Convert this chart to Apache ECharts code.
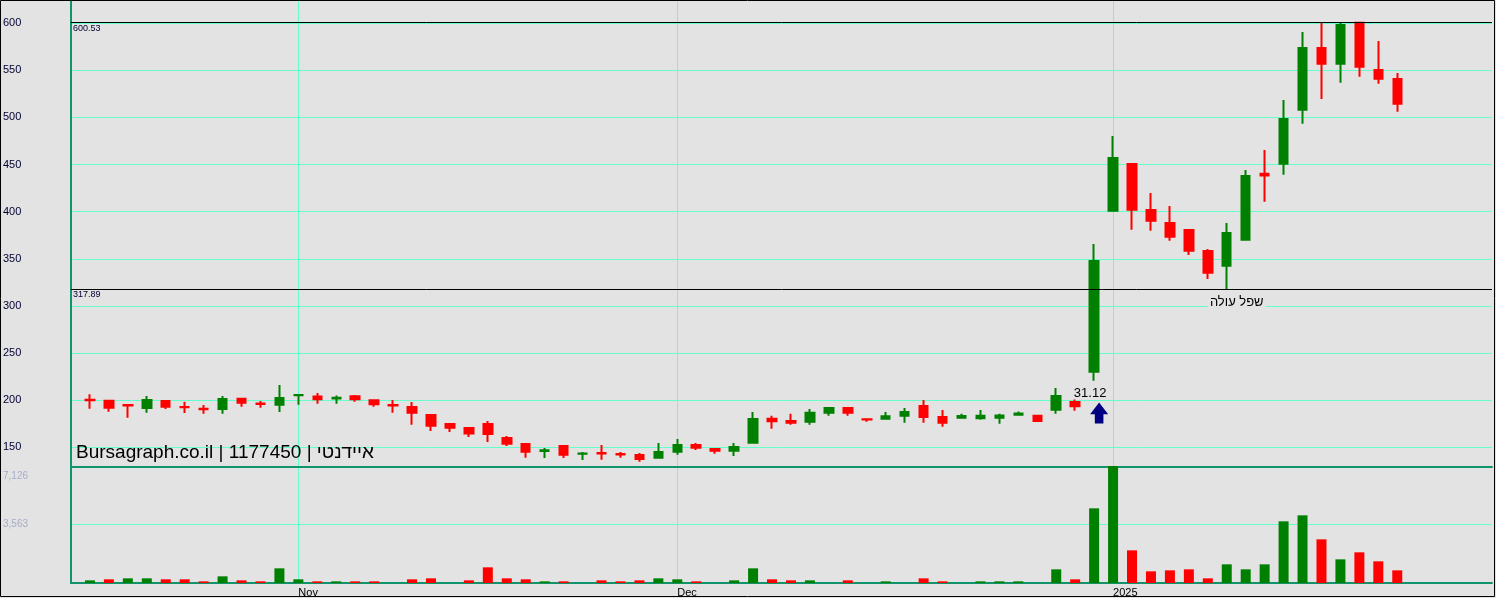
<!DOCTYPE html>
<html><head><meta charset="utf-8">
<script src="https://cdn.jsdelivr.net/npm/echarts@6/dist/echarts.min.js"></script>
<style>html,body{margin:0;padding:0;background:#e3e3e3}#c{width:1496px;height:598px}</style>
</head><body><div id="c"></div><script>
// ---- data ----
const dates = ['13.10','14.10','15.10','20.10','21.10','22.10','27.10','28.10','29.10','30.10','31.10',
  '03.11','04.11','05.11','06.11','07.11','10.11','11.11','12.11','13.11','14.11','17.11','18.11','19.11','20.11','21.11','24.11','25.11','26.11','27.11','28.11',
  '01.12','02.12','03.12','04.12','05.12','08.12','09.12','10.12','11.12','12.12','15.12','16.12','17.12','18.12','19.12','22.12','23.12','24.12','25.12','26.12','29.12','30.12','31.12',
  '01.01','02.01','05.01','06.01','07.01','08.01','09.01','12.01','13.01','14.01','15.01','16.01','19.01','20.01','21.01','22.01'];
const open  = [200.5,199.6,195.0,191.8,199.3,193.0,191.0,190.8,201.7,196.7,195.3,205.3,204.0,202.0,204.2,200.0,195.0,192.9,184.4,174.9,170.6,174.9,160.0,153.7,146.3,151.5,143.2,144.0,143.0,142.0,139.1,145.5,152.5,148.4,146.6,155.0,180.5,178.0,177.3,186.9,191.8,180.0,180.5,183.7,193.9,182.3,181.6,181.0,181.5,184.8,183.5,190.0,198.2,230.3,401.1,450.6,401.8,388.0,380.6,358.3,342.7,370.3,440.3,450.9,508.2,573.6,557.0,600.53,550.3,540.8];
const close = [200.0,192.2,194.5,200.3,193.2,192.5,190.5,201.4,197.5,196.2,202.4,205.6,201.0,202.8,201.1,195.8,194.5,186.9,173.1,170.9,164.8,164.2,154.0,145.5,146.9,142.3,143.7,143.6,142.5,137.7,145.2,152.6,149.8,146.6,150.5,180.2,177.7,176.3,186.9,191.8,186.9,179.6,183.0,187.6,182.3,176.2,183.3,183.7,184.0,186.0,178.0,204.6,193.6,347.7,457.0,402.1,390.5,373.5,358.7,335.3,377.4,437.9,438.5,498.3,573.6,557.0,598.0,553.8,541.1,514.6];
const low   = [191.1,187.9,181.5,186.9,190.8,186.5,185.8,185.8,193.2,192.2,187.6,195.3,196.4,196.4,198.5,193.2,186.9,174.1,167.4,166.4,161.1,155.8,151.5,139.1,138.8,138.8,136.7,137.0,139.1,134.9,139.0,142.3,147.3,143.4,140.9,155.0,169.9,174.1,174.1,183.7,183.7,177.3,180.3,176.2,176.2,172.0,181.5,179.4,175.2,184.7,178.0,185.8,189.0,220.8,400.5,380.9,379.9,369.3,354.1,328.6,317.89,370.0,410.6,439.3,493.3,519.5,536.8,543.2,535.8,506.1];
const high  = [206.4,200.0,195.0,204.6,199.5,198.5,195.0,204.6,202.5,199.3,216.2,206.7,207.7,205.2,205.7,200.3,200.3,198.2,184.5,175.0,171.7,178.0,162.1,154.7,149.4,151.6,145.2,152.6,145.2,144.1,154.7,159.0,154.7,148.5,154.7,187.6,183.7,185.8,190.8,192.9,192.0,180.0,187.6,191.8,200.3,189.7,185.8,189.7,185.8,188.0,183.5,213.0,205.6,365.8,480.3,451.0,419.9,406.0,381.0,360.4,388.0,444.3,465.5,518.5,590.6,600.53,600.53,600.53,581.0,547.2];
const volume = [162,224,284,284,224,224,101,406,162,101,893,224,101,101,101,101,0,224,284,0,162,954,284,224,101,101,0,162,101,162,284,224,101,0,162,893,224,162,162,0,162,0,101,0,284,101,0,101,101,101,0,832,224,4547,7126,1989,711,771,832,284,1137,832,1137,3756,4121,2659,1441,1868,1320,771];
const volumeUp = [1,0,1,1,0,0,0,1,0,0, 1,1,0,1,0,0,0,0,0,0, 0,0,0,0,1,0,0,0,0,0, 1,1,0,0,1,1,0,0,1,1, 0,0,1,1,0,0,1,1,1,1, 0,1,0,1,1,0,0,0,0,0, 1,1,1,1,1,0,1,0,0,0];
const priceTicks = [150,200,250,300,350,400,450,500,550,600];
const volumeTicks = [3563,7126];
const monthLabels = {'03.11':'Nov','01.12':'Dec','01.01':'2025'};
const levelLines = [600.53,317.89];
const lowNote = {date:'09.01', value:317.89, text:'שפל עולה'};
const arrowMark = {date:'31.12', value:186.5, text:'31.12'};
const watermark = 'Bursagraph.co.il | 1177450 | איידנטי';

// ---- chart ----
const UP='#008000', DOWN='#ff0000', TEAL='#11946c', MINT='#66ffcc', BG='#e3e3e3';
const cats = ['_p0'].concat(dates, ['_p1','_p2','_p3','_p4','_p5']);
const isMonth = (i, v) => Object.prototype.hasOwnProperty.call(monthLabels, v);
const candleRows = dates.map((d,i)=>[d, open[i], close[i], low[i], high[i]]);
const volRows = dates.map((d,i)=>({value:[d, volume[i]], itemStyle:{color: volumeUp[i] ? UP : DOWN}}));
const fmt = v => Number(v).toLocaleString('en-US');
const volMax = volumeTicks[volumeTicks.length-1];

const chart = echarts.init(document.getElementById('c'), null, {renderer:'canvas'});
chart.setOption({
  backgroundColor: BG,
  animation: false,
  title: {text: watermark, left: 76, top: 443, padding: 0,
    textStyle: {fontFamily:'Arial', fontSize:19, fontWeight:'normal', color:'#000'}},
  grid: [{left:71, top:1, width:1421, height:466}, {left:71, top:466, width:1421, height:117}],
  xAxis: [
    {type:'category', gridIndex:0, data:cats, boundaryGap:false,
     axisLine:{show:true, lineStyle:{color:TEAL, width:2}}, axisTick:{show:false}, axisLabel:{show:false},
     splitLine:{show:true, interval:isMonth, lineStyle:{color:MINT, width:1}}},
    {type:'category', gridIndex:1, data:cats, boundaryGap:false,
     axisLine:{show:true, lineStyle:{color:TEAL, width:2}}, axisTick:{show:false},
     axisLabel:{interval:isMonth, formatter:v=>monthLabels[v]||'', align:'left', margin:4, fontFamily:'Arial', fontSize:11, color:'#000'},
     splitLine:{show:true, interval:isMonth, lineStyle:{color:MINT, width:1}}}
  ],
  yAxis: [
    {type:'value', gridIndex:0, min:129.26, max:623.5,
     axisLine:{show:true, lineStyle:{color:TEAL, width:2}},
     axisTick:{show:false, customValues:priceTicks},
     axisLabel:{customValues:priceTicks, align:'left', margin:68, fontFamily:'Arial', fontSize:11, color:'#000033'},
     splitLine:{show:true, lineStyle:{color:MINT, width:1}}},
    {type:'value', gridIndex:1, min:0, max:volMax,
     axisLine:{show:true, lineStyle:{color:TEAL, width:2}},
     axisTick:{show:false, customValues:volumeTicks},
     axisLabel:{customValues:volumeTicks, align:'left', margin:68, fontFamily:'Arial', fontSize:10, color:'#a3adc8',
       formatter: v => v===volMax ? '{t|'+fmt(v)+'}' : fmt(v),
       rich:{t:{padding:[21,0,0,0], fontFamily:'Arial', fontSize:10, color:'#a3adc8'}}},
     splitLine:{show:true, lineStyle:{color:MINT, width:1}}}
  ],
  series: [
    {type:'candlestick', xAxisIndex:0, yAxisIndex:0, barWidth:9,
     dimensions:['date','open','close','lowest','highest'],
     encode:{x:'date', y:['open','close','lowest','highest']},
     data: candleRows,
     itemStyle:{color:UP, color0:DOWN, borderColor:UP, borderColor0:DOWN, borderWidth:2},
     markLine:{silent:true, symbol:['none','none'], animation:false,
       lineStyle:{color:'#000', width:1, type:'solid'},
       label:{position:'insideStartBottom', formatter:p=>Number(p.value).toFixed(2), fontFamily:'Arial', fontSize:9, color:'#000033', distance:[2,1]},
       emphasis:{disabled:true},
       data: levelLines.map(v=>({yAxis:v}))},
     markPoint:{silent:true, animation:false,
       data:[
         {coord:[arrowMark.date, arrowMark.value], symbol:'path://M9,0L18,11.6L13.3,11.6L13.3,20.6L4.7,20.6L4.7,11.6L0,11.6Z',
          symbolSize:[18,21], symbolOffset:[5,0], itemStyle:{color:'#000080'},
          label:{show:true, formatter:arrowMark.text, position:'top', distance:3, offset:[-9,0], fontFamily:'Arial', fontSize:13, color:'#000', backgroundColor:BG, padding:[0,1]}},
         {coord:[lowNote.date, lowNote.value], symbol:'rect', symbolSize:1, itemStyle:{color:'rgba(0,0,0,0)'},
          label:{show:true, formatter:lowNote.text, position:'inside', offset:[10,13.5], fontFamily:'Arial', fontSize:13, color:'#000', backgroundColor:BG, padding:[0,2]}}
       ]}
    },
    {type:'bar', xAxisIndex:1, yAxisIndex:1, barWidth:10, data: volRows}
  ],
  graphic: [{type:'rect', z:100, silent:true, shape:{x:0.5, y:0.5, width:1494, height:596}, style:{fill:null, stroke:'#000', lineWidth:1}}]
});
</script></body></html>
